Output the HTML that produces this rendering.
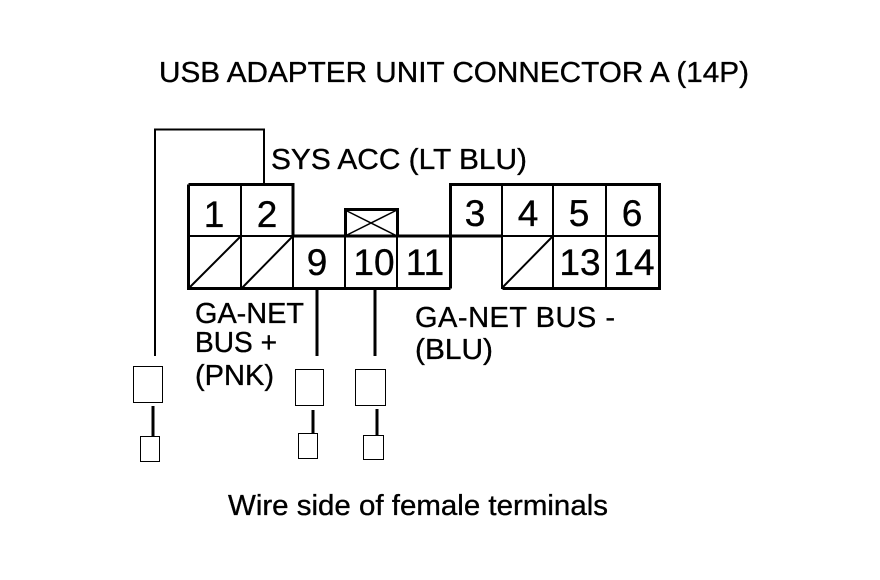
<!DOCTYPE html>
<html><head><meta charset="utf-8"><style>
html,body{margin:0;padding:0;background:#fff;width:880px;height:580px;overflow:hidden}
svg{display:block}
text{font-family:"Liberation Sans",sans-serif;fill:#000;stroke:#000;stroke-width:.35px}
.n{font-size:37px;text-anchor:middle}
.t{font-size:29px}
</style></head><body>
<svg width="880" height="580" viewBox="0 0 880 580" xmlns="http://www.w3.org/2000/svg" shape-rendering="crispEdges">
<rect width="880" height="580" fill="#fff"/>
<text x="159" y="82" class="t" textLength="590" lengthAdjust="spacingAndGlyphs">USB ADAPTER UNIT CONNECTOR A (14P)</text>
<text x="271" y="169" class="t" textLength="256" lengthAdjust="spacingAndGlyphs">SYS ACC (LT BLU)</text>
<text x="195" y="323" class="t" textLength="109" lengthAdjust="spacingAndGlyphs">GA-NET</text>
<text x="195" y="352" class="t" textLength="82" lengthAdjust="spacingAndGlyphs">BUS +</text>
<text x="195" y="385" class="t" textLength="79" lengthAdjust="spacingAndGlyphs">(PNK)</text>
<text x="415" y="327" class="t" textLength="200" lengthAdjust="spacing">GA-NET BUS -</text>
<text x="415" y="359" class="t" textLength="78" lengthAdjust="spacingAndGlyphs">(BLU)</text>
<text x="228" y="515" class="t" textLength="380" lengthAdjust="spacingAndGlyphs">Wire side of female terminals</text>

<text x="214" y="227" class="n">1</text>
<text x="267" y="227" class="n">2</text>
<text x="317" y="275" class="n">9</text>
<text x="374" y="275" class="n">10</text>
<text x="425" y="275" class="n">11</text>
<text x="475" y="226" class="n">3</text>
<text x="528" y="226" class="n">4</text>
<text x="579" y="226" class="n">5</text>
<text x="632" y="226" class="n">6</text>
<text x="580" y="275" class="n">13</text>
<text x="634" y="275" class="n">14</text>

<g fill="none" stroke="#000">
<path d="M155 356V129.500H264V183" stroke-width="2"/>
<path d="M188.500 184.500H293V236H345M397 236H450.500V184.500H659.500V288.500H502.500M450.500 288.500H188.500V184.500" stroke-width="3"/>
<path d="M450.500 236V288.500M450 236H502" stroke-width="3"/>
<path d="M345.500 209.500H397.500V236H345.500Z" stroke-width="3"/>
<path d="M188 236H293M502 236H659M241 184V289M293 236V289M345 236V289M397 236V289M502 184V289M553 184V289M606 184V289" stroke-width="2"/>
<path d="M317 289V356M375 289V356" stroke-width="3"/>
<path d="M153 406V436M313 410V434M377 409V436" stroke-width="3"/>
<path d="M133.500 366.500H162.500V402.500H133.500ZM295.500 369.500H323.500V405.500H295.500ZM355.500 369.500H385.500V405.500H355.500ZM140.500 436.500H159.500V461.500H140.500ZM298.500 433.500H317.500V458.500H298.500ZM363.500 435.500H383.500V459.500H363.500Z" stroke-width="1"/>
</g>
<g fill="none" stroke="#000" shape-rendering="auto">
<path d="M188 289L241 236M241 289L293 236M502 288L553 236" stroke-width="2"/>
<path d="M345 210L397 236M397 210L345 236" stroke-width="1.500"/>
</g>
</svg>
</body></html>
